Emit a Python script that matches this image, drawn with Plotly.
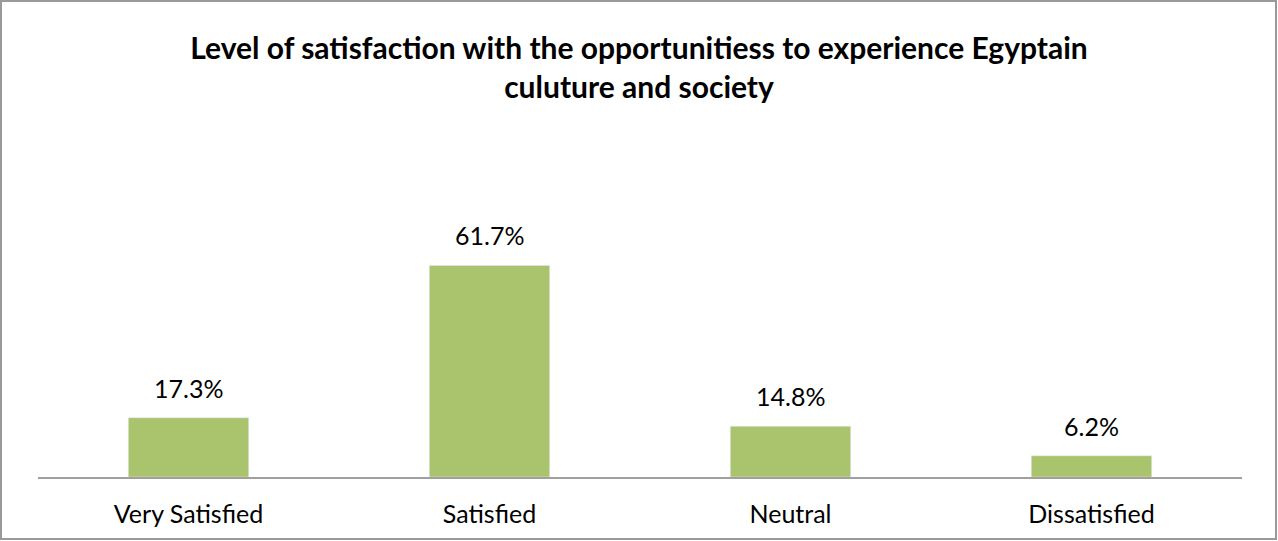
import plotly.graph_objects as go

categories = ["Very Satisfied", "Satisfied", "Neutral", "Dissatisfied"]
values = [17.3, 61.7, 14.8, 6.2]
value_labels = ["17.3%", "61.7%", "14.8%", "6.2%"]
title_text = "Level of satisfaction with the opportunitiess to experience Egyptain<br>culuture and society"

W, H = 1278, 541
ML, MR, MT, MB = 38, 36, 237, 64
pw, ph = W - ML - MR, H - MT - MB

font_family = "Lato, Open Sans, sans-serif"
bar_color = "#AAC46E"

fig = go.Figure(go.Bar(
    x=categories, y=values, marker_color=bar_color, width=0.4,
    hoverinfo="skip",
))

for c, v, t in zip(categories, values, value_labels):
    fig.add_annotation(x=c, y=v, text=t, showarrow=False, yanchor="bottom",
                       yshift=13, font=dict(size=25, color="#000", family=font_family))

# outer border
fig.add_shape(type="rect", xref="paper", yref="paper",
              x0=(1 - ML) / pw, x1=(W - 2 - ML) / pw,
              y0=-(MB - 2) / ph, y1=1 + (MT - 1) / ph,
              line=dict(color="#9A9A9A", width=2), fillcolor="rgba(0,0,0,0)")

fig.update_layout(
    width=W, height=H,
    margin=dict(l=ML, r=MR, t=MT, b=MB),
    paper_bgcolor="white", plot_bgcolor="white",
    showlegend=False,
    title=dict(text=title_text, x=0.5, xanchor="center", y=1 - 59 / H, yanchor="top",
               font=dict(size=30, color="#000", family=font_family, weight="bold")),
    font=dict(family=font_family, color="#000"),
    bargap=0.6,
)
fig.update_xaxes(showline=True, linecolor="#A0A0A0", linewidth=2,
                 ticks="outside", ticklen=14, tickcolor="rgba(0,0,0,0)",
                 tickfont=dict(size=25, color="#000", family=font_family),
                 showgrid=False, zeroline=False, fixedrange=True)
fig.update_yaxes(range=[0, 70], visible=False, showgrid=False, zeroline=False, fixedrange=True)

fig.write_html("out.html", config={"displayModeBar": False},
               post_script="document.body.style.margin='0';document.body.style.overflow='hidden';")
